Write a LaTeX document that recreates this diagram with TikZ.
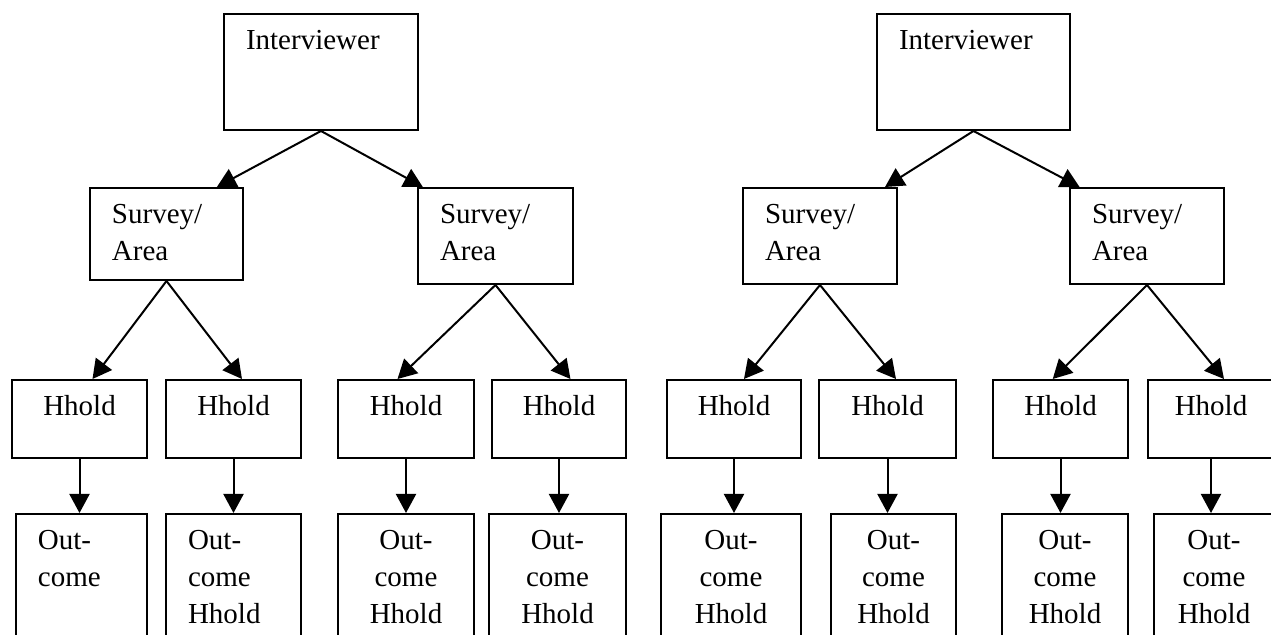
\documentclass[tikz,border=0pt]{standalone}
\usepackage{fontspec}
\setmainfont{Liberation Serif}
\usetikzlibrary{arrows.meta}

\begin{document}
\begin{tikzpicture}[
    x=0.5pt, y=-0.5pt,
    font=\fontsize{14.5pt}{18.5pt}\selectfont,
    >={Triangle[length=9.5pt, width=10pt]},
    box/.style={draw, line width=1pt, rectangle, anchor=north west,
                inner xsep=11pt, inner ysep=0pt, text height=18pt},
    lbox/.style={box, align=left},
    cbox/.style={box, align=center},
    link/.style={->, line width=1pt},
]

\useasboundingbox (0,0) rectangle (1271,635);
\clip (0,0) rectangle (1271,635);

% ---- Interviewers ----
\node[lbox, text width=75pt, text depth=40pt] (iL) at (223,13) {Interviewer};
\node[lbox, text width=74.5pt, text depth=40pt] (iR) at (876,13) {Interviewer};

% ---- Survey / area level ----
\node[lbox, text width=54.5pt, text depth=28pt] (sL1) at (89,187)  {Survey/\\Area};
\node[lbox, text width=55.5pt, text depth=30pt] (sL2) at (417,187) {Survey/\\Area};
\node[lbox, text width=55pt, text depth=30pt]   (sR1) at (742,187) {Survey/\\Area};
\node[lbox, text width=55pt, text depth=30pt]   (sR2) at (1069,187) {Survey/\\Area};

% ---- Households ----
\foreach \n/\x/\w in {hL1/11/45.5pt, hL2/165/45.5pt, hL3/337/46pt, hL4/491/45pt,
                      hR1/666/45pt, hR2/818/46.5pt, hR3/992/45.5pt, hR4/1147/41pt}
    \node[cbox, text width=\w, text depth=21pt] (\n) at (\x,379) {Hhold};

% ---- Outcomes ----
\node[lbox, text width=43.5pt, text depth=57pt] (oL1) at (15,513)  {Out-\\come};
\node[lbox, text width=45.5pt, text depth=57pt] (oL2) at (165,513) {Out-\\come\\Hhold};
\foreach \n/\x/\w in {oL3/337/46pt, oL4/488/46.5pt, oR1/660/48pt,
                      oR2/830/40.5pt, oR3/1001/41pt, oR4/1153/38pt}
    \node[cbox, text width=\w, text depth=57pt] (\n) at (\x,513) {Out-\\come\\Hhold};

% ---- Arrows ----
\draw[link] (iL.south) -- (sL1.43);
\draw[link] (iL.south) -- (sL2.146);
\draw[link] (iR.south) -- (sR1.37);
\draw[link] (iR.south) -- (sR2.144);

\draw[link] (sL1.south) -- (hL1.72);
\draw[link] (sL1.south) -- (hL2.78);
\draw[link] (sL2.south) -- (hL3.102);
\draw[link] (sL2.south) -- (hL4.74);
\draw[link] (sR1.south) -- (hR1.76);
\draw[link] (sR1.south) -- (hR2.78);
\draw[link] (sR2.south) -- (hR3.101);
\draw[link] (sR2.south) -- (hR4.72);

\foreach \i in {L1,L2,L3,L4,R1,R2,R3,R4}
    \draw[link] (h\i.south) -- (h\i.south |- o\i.north);

\end{tikzpicture}
\end{document}
